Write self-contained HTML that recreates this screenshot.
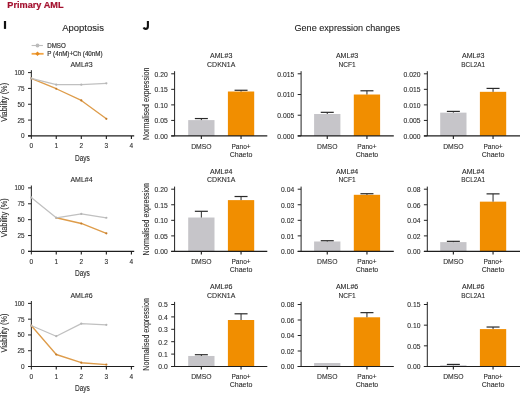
<!DOCTYPE html>
<html><head><meta charset="utf-8"><style>
html,body{margin:0;padding:0;background:#fff;}
body{width:520px;height:394px;overflow:hidden;}
svg{display:block;font-family:"Liberation Sans", sans-serif;will-change:transform;filter:blur(0.3px);}
</style></head><body>
<svg width="520" height="394" viewBox="0 0 520 394">
<text x="7.30" y="7.55" font-size="9.4" text-anchor="start" fill="#A3102E" stroke="#A3102E" stroke-width="0.2" font-weight="bold" textLength="56.2" lengthAdjust="spacingAndGlyphs" >Primary AML</text>
<rect x="3.90" y="21.00" width="2.20" height="7.90" fill="#111"/>
<path d="M147.9 20.9 V26.2 Q147.9 28.9 145.6 28.9 Q144.2 28.9 143.5 27.6" fill="none" stroke="#111" stroke-width="2.1"/>
<text x="62.20" y="30.70" font-size="9.8" text-anchor="start" fill="#222" stroke="#222" stroke-width="0.1" textLength="41.7" lengthAdjust="spacingAndGlyphs" >Apoptosis</text>
<text x="294.50" y="30.80" font-size="9.9" text-anchor="start" fill="#222" stroke="#222" stroke-width="0.1" textLength="105.5" lengthAdjust="spacingAndGlyphs" >Gene expression changes</text>
<line x1="31.60" y1="45.50" x2="42.90" y2="45.50" stroke="#BDBDBD" stroke-width="1.1"/>
<circle cx="37.50" cy="45.50" r="1.9" fill="#BBBBBB"/>
<text x="47.20" y="47.60" font-size="6.6" text-anchor="start" fill="#333" stroke="#333" stroke-width="0.18" textLength="18.6" lengthAdjust="spacingAndGlyphs" >DMSO</text>
<line x1="31.60" y1="53.80" x2="43.60" y2="53.80" stroke="#F2A545" stroke-width="1.8"/>
<path d="M37.5 51.6 L39.8 53.8 L37.5 56.0 L35.2 53.8 Z" fill="#E58A1E"/>
<text x="47.30" y="56.00" font-size="6.6" text-anchor="start" fill="#333" stroke="#333" stroke-width="0.18" textLength="55.3" lengthAdjust="spacingAndGlyphs" >P (4nM)+Ch (40nM)</text>
<text x="81.50" y="66.60" font-size="6.9" text-anchor="middle" fill="#2a2a2a" stroke="#2a2a2a" stroke-width="0.1" textLength="22.2" lengthAdjust="spacingAndGlyphs" >AML#3</text>
<text x="7.30" y="102.35" font-size="8.6" text-anchor="middle" fill="#2a2a2a" stroke="#2a2a2a" stroke-width="0.1" textLength="39" lengthAdjust="spacingAndGlyphs" transform="rotate(-90 7.30 102.35)" >Viability (%)</text>
<line x1="31.35" y1="70.20" x2="31.35" y2="138.90" stroke="#222" stroke-width="1.0"/>
<line x1="28.00" y1="135.90" x2="134.20" y2="135.90" stroke="#1e1e1e" stroke-width="1.2"/>
<line x1="28.00" y1="135.90" x2="31.35" y2="135.90" stroke="#222" stroke-width="1.0"/>
<text x="24.50" y="138.35" font-size="6.8" text-anchor="end" fill="#2a2a2a" stroke="#2a2a2a" stroke-width="0.1" textLength="3.6" lengthAdjust="spacingAndGlyphs" >0</text>
<line x1="28.00" y1="120.08" x2="31.35" y2="120.08" stroke="#222" stroke-width="1.0"/>
<text x="24.50" y="122.53" font-size="6.8" text-anchor="end" fill="#2a2a2a" stroke="#2a2a2a" stroke-width="0.1" textLength="7.1" lengthAdjust="spacingAndGlyphs" >25</text>
<line x1="28.00" y1="104.25" x2="31.35" y2="104.25" stroke="#222" stroke-width="1.0"/>
<text x="24.50" y="106.70" font-size="6.8" text-anchor="end" fill="#2a2a2a" stroke="#2a2a2a" stroke-width="0.1" textLength="7.1" lengthAdjust="spacingAndGlyphs" >50</text>
<line x1="28.00" y1="88.42" x2="31.35" y2="88.42" stroke="#222" stroke-width="1.0"/>
<text x="24.50" y="90.88" font-size="6.8" text-anchor="end" fill="#2a2a2a" stroke="#2a2a2a" stroke-width="0.1" textLength="7.1" lengthAdjust="spacingAndGlyphs" >75</text>
<line x1="28.00" y1="72.60" x2="31.35" y2="72.60" stroke="#222" stroke-width="1.0"/>
<text x="24.50" y="75.05" font-size="6.8" text-anchor="end" fill="#2a2a2a" stroke="#2a2a2a" stroke-width="0.1" textLength="10.1" lengthAdjust="spacingAndGlyphs" >100</text>
<text x="31.20" y="148.30" font-size="6.5" text-anchor="middle" fill="#2a2a2a" stroke="#2a2a2a" stroke-width="0.1" >0</text>
<line x1="56.25" y1="135.90" x2="56.25" y2="138.90" stroke="#1a1a1a" stroke-width="1.1"/>
<text x="56.25" y="148.30" font-size="6.5" text-anchor="middle" fill="#2a2a2a" stroke="#2a2a2a" stroke-width="0.1" >1</text>
<line x1="81.30" y1="135.90" x2="81.30" y2="138.90" stroke="#1a1a1a" stroke-width="1.1"/>
<text x="81.30" y="148.30" font-size="6.5" text-anchor="middle" fill="#2a2a2a" stroke="#2a2a2a" stroke-width="0.1" >2</text>
<line x1="106.35" y1="135.90" x2="106.35" y2="138.90" stroke="#1a1a1a" stroke-width="1.1"/>
<text x="106.35" y="148.30" font-size="6.5" text-anchor="middle" fill="#2a2a2a" stroke="#2a2a2a" stroke-width="0.1" >3</text>
<line x1="131.40" y1="135.90" x2="131.40" y2="138.90" stroke="#1a1a1a" stroke-width="1.1"/>
<text x="131.40" y="148.30" font-size="6.5" text-anchor="middle" fill="#2a2a2a" stroke="#2a2a2a" stroke-width="0.1" >4</text>
<text x="82.40" y="160.80" font-size="8.2" text-anchor="middle" fill="#2a2a2a" stroke="#2a2a2a" stroke-width="0.1" textLength="15.0" lengthAdjust="spacingAndGlyphs" >Days</text>
<polyline points="31.20,78.30 56.25,88.74 81.30,100.45 106.35,118.81" fill="none" stroke="#DE9C4A" stroke-width="1.35" stroke-linejoin="round"/>
<circle cx="31.20" cy="78.30" r="1.1" fill="#C47C2A"/>
<circle cx="56.25" cy="88.74" r="1.1" fill="#C47C2A"/>
<circle cx="81.30" cy="100.45" r="1.1" fill="#C47C2A"/>
<circle cx="106.35" cy="118.81" r="1.1" fill="#C47C2A"/>
<polyline points="31.20,78.30 56.25,84.63 81.30,84.63 106.35,83.36" fill="none" stroke="#C0C0C0" stroke-width="1.25" stroke-linejoin="round"/>
<circle cx="31.20" cy="78.30" r="1.1" fill="#B5B5B5"/>
<circle cx="56.25" cy="84.63" r="1.1" fill="#B5B5B5"/>
<circle cx="81.30" cy="84.63" r="1.1" fill="#B5B5B5"/>
<circle cx="106.35" cy="83.36" r="1.1" fill="#B5B5B5"/>
<text x="81.50" y="182.00" font-size="6.9" text-anchor="middle" fill="#2a2a2a" stroke="#2a2a2a" stroke-width="0.1" textLength="22.2" lengthAdjust="spacingAndGlyphs" >AML#4</text>
<text x="7.30" y="217.78" font-size="8.6" text-anchor="middle" fill="#2a2a2a" stroke="#2a2a2a" stroke-width="0.1" textLength="39" lengthAdjust="spacingAndGlyphs" transform="rotate(-90 7.30 217.78)" >Viability (%)</text>
<line x1="31.35" y1="185.50" x2="31.35" y2="254.45" stroke="#222" stroke-width="1.0"/>
<line x1="28.00" y1="251.45" x2="134.20" y2="251.45" stroke="#1e1e1e" stroke-width="1.2"/>
<line x1="28.00" y1="251.45" x2="31.35" y2="251.45" stroke="#222" stroke-width="1.0"/>
<text x="24.50" y="253.90" font-size="6.8" text-anchor="end" fill="#2a2a2a" stroke="#2a2a2a" stroke-width="0.1" textLength="3.6" lengthAdjust="spacingAndGlyphs" >0</text>
<line x1="28.00" y1="235.56" x2="31.35" y2="235.56" stroke="#222" stroke-width="1.0"/>
<text x="24.50" y="238.01" font-size="6.8" text-anchor="end" fill="#2a2a2a" stroke="#2a2a2a" stroke-width="0.1" textLength="7.1" lengthAdjust="spacingAndGlyphs" >25</text>
<line x1="28.00" y1="219.68" x2="31.35" y2="219.68" stroke="#222" stroke-width="1.0"/>
<text x="24.50" y="222.12" font-size="6.8" text-anchor="end" fill="#2a2a2a" stroke="#2a2a2a" stroke-width="0.1" textLength="7.1" lengthAdjust="spacingAndGlyphs" >50</text>
<line x1="28.00" y1="203.79" x2="31.35" y2="203.79" stroke="#222" stroke-width="1.0"/>
<text x="24.50" y="206.24" font-size="6.8" text-anchor="end" fill="#2a2a2a" stroke="#2a2a2a" stroke-width="0.1" textLength="7.1" lengthAdjust="spacingAndGlyphs" >75</text>
<line x1="28.00" y1="187.90" x2="31.35" y2="187.90" stroke="#222" stroke-width="1.0"/>
<text x="24.50" y="190.35" font-size="6.8" text-anchor="end" fill="#2a2a2a" stroke="#2a2a2a" stroke-width="0.1" textLength="10.1" lengthAdjust="spacingAndGlyphs" >100</text>
<text x="31.20" y="263.85" font-size="6.5" text-anchor="middle" fill="#2a2a2a" stroke="#2a2a2a" stroke-width="0.1" >0</text>
<line x1="56.25" y1="251.45" x2="56.25" y2="254.45" stroke="#1a1a1a" stroke-width="1.1"/>
<text x="56.25" y="263.85" font-size="6.5" text-anchor="middle" fill="#2a2a2a" stroke="#2a2a2a" stroke-width="0.1" >1</text>
<line x1="81.30" y1="251.45" x2="81.30" y2="254.45" stroke="#1a1a1a" stroke-width="1.1"/>
<text x="81.30" y="263.85" font-size="6.5" text-anchor="middle" fill="#2a2a2a" stroke="#2a2a2a" stroke-width="0.1" >2</text>
<line x1="106.35" y1="251.45" x2="106.35" y2="254.45" stroke="#1a1a1a" stroke-width="1.1"/>
<text x="106.35" y="263.85" font-size="6.5" text-anchor="middle" fill="#2a2a2a" stroke="#2a2a2a" stroke-width="0.1" >3</text>
<line x1="131.40" y1="251.45" x2="131.40" y2="254.45" stroke="#1a1a1a" stroke-width="1.1"/>
<text x="131.40" y="263.85" font-size="6.5" text-anchor="middle" fill="#2a2a2a" stroke="#2a2a2a" stroke-width="0.1" >4</text>
<text x="82.40" y="276.35" font-size="8.2" text-anchor="middle" fill="#2a2a2a" stroke="#2a2a2a" stroke-width="0.1" textLength="15.0" lengthAdjust="spacingAndGlyphs" >Days</text>
<polyline points="56.25,217.77 81.30,223.49 106.35,233.34" fill="none" stroke="#DE9C4A" stroke-width="1.35" stroke-linejoin="round"/>
<circle cx="56.25" cy="217.77" r="1.1" fill="#C47C2A"/>
<circle cx="81.30" cy="223.49" r="1.1" fill="#C47C2A"/>
<circle cx="106.35" cy="233.34" r="1.1" fill="#C47C2A"/>
<polyline points="31.20,197.43 56.25,217.77 81.30,213.96 106.35,217.77" fill="none" stroke="#C0C0C0" stroke-width="1.25" stroke-linejoin="round"/>
<circle cx="31.20" cy="197.43" r="1.1" fill="#B5B5B5"/>
<circle cx="56.25" cy="217.77" r="1.1" fill="#B5B5B5"/>
<circle cx="81.30" cy="213.96" r="1.1" fill="#B5B5B5"/>
<circle cx="106.35" cy="217.77" r="1.1" fill="#B5B5B5"/>
<text x="81.50" y="297.60" font-size="6.9" text-anchor="middle" fill="#2a2a2a" stroke="#2a2a2a" stroke-width="0.1" textLength="22.2" lengthAdjust="spacingAndGlyphs" >AML#6</text>
<text x="7.30" y="333.05" font-size="8.6" text-anchor="middle" fill="#2a2a2a" stroke="#2a2a2a" stroke-width="0.1" textLength="39" lengthAdjust="spacingAndGlyphs" transform="rotate(-90 7.30 333.05)" >Viability (%)</text>
<line x1="31.35" y1="301.00" x2="31.35" y2="369.50" stroke="#222" stroke-width="1.0"/>
<line x1="28.00" y1="366.50" x2="134.20" y2="366.50" stroke="#1e1e1e" stroke-width="1.2"/>
<line x1="28.00" y1="366.50" x2="31.35" y2="366.50" stroke="#222" stroke-width="1.0"/>
<text x="24.50" y="368.95" font-size="6.8" text-anchor="end" fill="#2a2a2a" stroke="#2a2a2a" stroke-width="0.1" textLength="3.6" lengthAdjust="spacingAndGlyphs" >0</text>
<line x1="28.00" y1="350.73" x2="31.35" y2="350.73" stroke="#222" stroke-width="1.0"/>
<text x="24.50" y="353.18" font-size="6.8" text-anchor="end" fill="#2a2a2a" stroke="#2a2a2a" stroke-width="0.1" textLength="7.1" lengthAdjust="spacingAndGlyphs" >25</text>
<line x1="28.00" y1="334.95" x2="31.35" y2="334.95" stroke="#222" stroke-width="1.0"/>
<text x="24.50" y="337.40" font-size="6.8" text-anchor="end" fill="#2a2a2a" stroke="#2a2a2a" stroke-width="0.1" textLength="7.1" lengthAdjust="spacingAndGlyphs" >50</text>
<line x1="28.00" y1="319.17" x2="31.35" y2="319.17" stroke="#222" stroke-width="1.0"/>
<text x="24.50" y="321.62" font-size="6.8" text-anchor="end" fill="#2a2a2a" stroke="#2a2a2a" stroke-width="0.1" textLength="7.1" lengthAdjust="spacingAndGlyphs" >75</text>
<line x1="28.00" y1="303.40" x2="31.35" y2="303.40" stroke="#222" stroke-width="1.0"/>
<text x="24.50" y="305.85" font-size="6.8" text-anchor="end" fill="#2a2a2a" stroke="#2a2a2a" stroke-width="0.1" textLength="10.1" lengthAdjust="spacingAndGlyphs" >100</text>
<text x="31.20" y="378.90" font-size="6.5" text-anchor="middle" fill="#2a2a2a" stroke="#2a2a2a" stroke-width="0.1" >0</text>
<line x1="56.25" y1="366.50" x2="56.25" y2="369.50" stroke="#1a1a1a" stroke-width="1.1"/>
<text x="56.25" y="378.90" font-size="6.5" text-anchor="middle" fill="#2a2a2a" stroke="#2a2a2a" stroke-width="0.1" >1</text>
<line x1="81.30" y1="366.50" x2="81.30" y2="369.50" stroke="#1a1a1a" stroke-width="1.1"/>
<text x="81.30" y="378.90" font-size="6.5" text-anchor="middle" fill="#2a2a2a" stroke="#2a2a2a" stroke-width="0.1" >2</text>
<line x1="106.35" y1="366.50" x2="106.35" y2="369.50" stroke="#1a1a1a" stroke-width="1.1"/>
<text x="106.35" y="378.90" font-size="6.5" text-anchor="middle" fill="#2a2a2a" stroke="#2a2a2a" stroke-width="0.1" >3</text>
<line x1="131.40" y1="366.50" x2="131.40" y2="369.50" stroke="#1a1a1a" stroke-width="1.1"/>
<text x="131.40" y="378.90" font-size="6.5" text-anchor="middle" fill="#2a2a2a" stroke="#2a2a2a" stroke-width="0.1" >4</text>
<text x="82.40" y="391.40" font-size="8.2" text-anchor="middle" fill="#2a2a2a" stroke="#2a2a2a" stroke-width="0.1" textLength="15.0" lengthAdjust="spacingAndGlyphs" >Days</text>
<polyline points="31.20,325.49 56.25,354.51 81.30,362.71 106.35,364.61" fill="none" stroke="#DE9C4A" stroke-width="1.35" stroke-linejoin="round"/>
<circle cx="31.20" cy="325.49" r="1.1" fill="#C47C2A"/>
<circle cx="56.25" cy="354.51" r="1.1" fill="#C47C2A"/>
<circle cx="81.30" cy="362.71" r="1.1" fill="#C47C2A"/>
<circle cx="106.35" cy="364.61" r="1.1" fill="#C47C2A"/>
<polyline points="31.20,325.49 56.25,336.21 81.30,323.59 106.35,324.85" fill="none" stroke="#C0C0C0" stroke-width="1.25" stroke-linejoin="round"/>
<circle cx="31.20" cy="325.49" r="1.1" fill="#B5B5B5"/>
<circle cx="56.25" cy="336.21" r="1.1" fill="#B5B5B5"/>
<circle cx="81.30" cy="323.59" r="1.1" fill="#B5B5B5"/>
<circle cx="106.35" cy="324.85" r="1.1" fill="#B5B5B5"/>
<text x="149.00" y="103.78" font-size="8.8" text-anchor="middle" fill="#2a2a2a" stroke="#2a2a2a" stroke-width="0.1" textLength="72.5" lengthAdjust="spacingAndGlyphs" transform="rotate(-90 149.00 103.78)" >Normalised expression</text>
<text x="221.20" y="58.30" font-size="6.9" text-anchor="middle" fill="#2a2a2a" stroke="#2a2a2a" stroke-width="0.1" textLength="22.4" lengthAdjust="spacingAndGlyphs" >AML#3</text>
<text x="221.20" y="66.80" font-size="6.9" text-anchor="middle" fill="#2a2a2a" stroke="#2a2a2a" stroke-width="0.1" textLength="28.2" lengthAdjust="spacingAndGlyphs" >CDKN1A</text>
<rect x="188.20" y="120.10" width="26.30" height="15.85" fill="#C6C5C9"/>
<line x1="201.35" y1="118.55" x2="201.35" y2="120.10" stroke="#2a2a2a" stroke-width="1.0"/>
<line x1="194.85" y1="118.55" x2="207.85" y2="118.55" stroke="#2a2a2a" stroke-width="1.2"/>
<line x1="201.35" y1="135.95" x2="201.35" y2="138.95" stroke="#1a1a1a" stroke-width="1.1"/>
<rect x="227.90" y="91.51" width="26.30" height="44.44" fill="#F18E00"/>
<line x1="241.05" y1="90.27" x2="241.05" y2="91.51" stroke="#2a2a2a" stroke-width="1.0"/>
<line x1="234.55" y1="90.27" x2="247.55" y2="90.27" stroke="#2a2a2a" stroke-width="1.2"/>
<line x1="241.05" y1="135.95" x2="241.05" y2="138.95" stroke="#1a1a1a" stroke-width="1.1"/>
<line x1="174.60" y1="71.20" x2="174.60" y2="135.95" stroke="#222" stroke-width="1.0"/>
<line x1="171.20" y1="135.95" x2="267.30" y2="135.95" stroke="#1e1e1e" stroke-width="1.2"/>
<line x1="171.20" y1="135.95" x2="174.60" y2="135.95" stroke="#222" stroke-width="1.0"/>
<text x="167.70" y="138.80" font-size="7.2" text-anchor="end" fill="#2a2a2a" stroke="#2a2a2a" stroke-width="0.1" textLength="13.14" lengthAdjust="spacingAndGlyphs" >0.00</text>
<line x1="171.20" y1="120.41" x2="174.60" y2="120.41" stroke="#222" stroke-width="1.0"/>
<text x="167.70" y="123.26" font-size="7.2" text-anchor="end" fill="#2a2a2a" stroke="#2a2a2a" stroke-width="0.1" textLength="13.14" lengthAdjust="spacingAndGlyphs" >0.05</text>
<line x1="171.20" y1="104.88" x2="174.60" y2="104.88" stroke="#222" stroke-width="1.0"/>
<text x="167.70" y="107.72" font-size="7.2" text-anchor="end" fill="#2a2a2a" stroke="#2a2a2a" stroke-width="0.1" textLength="13.14" lengthAdjust="spacingAndGlyphs" >0.10</text>
<line x1="171.20" y1="89.34" x2="174.60" y2="89.34" stroke="#222" stroke-width="1.0"/>
<text x="167.70" y="92.19" font-size="7.2" text-anchor="end" fill="#2a2a2a" stroke="#2a2a2a" stroke-width="0.1" textLength="13.14" lengthAdjust="spacingAndGlyphs" >0.15</text>
<line x1="171.20" y1="73.80" x2="174.60" y2="73.80" stroke="#222" stroke-width="1.0"/>
<text x="167.70" y="76.65" font-size="7.2" text-anchor="end" fill="#2a2a2a" stroke="#2a2a2a" stroke-width="0.1" textLength="13.14" lengthAdjust="spacingAndGlyphs" >0.20</text>
<text x="201.35" y="148.55" font-size="7.2" text-anchor="middle" fill="#2a2a2a" stroke="#2a2a2a" stroke-width="0.1" textLength="20.4" lengthAdjust="spacingAndGlyphs" >DMSO</text>
<text x="241.05" y="148.55" font-size="7.2" text-anchor="middle" fill="#2a2a2a" stroke="#2a2a2a" stroke-width="0.1" textLength="19.2" lengthAdjust="spacingAndGlyphs" >Pano+</text>
<text x="241.05" y="156.85" font-size="7.2" text-anchor="middle" fill="#2a2a2a" stroke="#2a2a2a" stroke-width="0.1" textLength="22.6" lengthAdjust="spacingAndGlyphs" >Chaeto</text>
<text x="347.10" y="58.30" font-size="6.9" text-anchor="middle" fill="#2a2a2a" stroke="#2a2a2a" stroke-width="0.1" textLength="22.4" lengthAdjust="spacingAndGlyphs" >AML#3</text>
<text x="347.10" y="66.80" font-size="6.9" text-anchor="middle" fill="#2a2a2a" stroke="#2a2a2a" stroke-width="0.1" textLength="17.2" lengthAdjust="spacingAndGlyphs" >NCF1</text>
<rect x="314.10" y="113.99" width="26.30" height="21.96" fill="#C6C5C9"/>
<line x1="327.25" y1="112.33" x2="327.25" y2="113.99" stroke="#2a2a2a" stroke-width="1.0"/>
<line x1="320.75" y1="112.33" x2="333.75" y2="112.33" stroke="#2a2a2a" stroke-width="1.2"/>
<line x1="327.25" y1="135.95" x2="327.25" y2="138.95" stroke="#1a1a1a" stroke-width="1.1"/>
<rect x="353.80" y="94.52" width="26.30" height="41.43" fill="#F18E00"/>
<line x1="366.95" y1="90.79" x2="366.95" y2="94.52" stroke="#2a2a2a" stroke-width="1.0"/>
<line x1="360.45" y1="90.79" x2="373.45" y2="90.79" stroke="#2a2a2a" stroke-width="1.2"/>
<line x1="366.95" y1="135.95" x2="366.95" y2="138.95" stroke="#1a1a1a" stroke-width="1.1"/>
<line x1="301.10" y1="71.20" x2="301.10" y2="135.95" stroke="#222" stroke-width="1.0"/>
<line x1="297.70" y1="135.95" x2="393.80" y2="135.95" stroke="#1e1e1e" stroke-width="1.2"/>
<line x1="297.70" y1="135.95" x2="301.10" y2="135.95" stroke="#222" stroke-width="1.0"/>
<text x="294.20" y="138.80" font-size="7.2" text-anchor="end" fill="#2a2a2a" stroke="#2a2a2a" stroke-width="0.1" textLength="16.89" lengthAdjust="spacingAndGlyphs" >0.000</text>
<line x1="297.70" y1="115.23" x2="301.10" y2="115.23" stroke="#222" stroke-width="1.0"/>
<text x="294.20" y="118.08" font-size="7.2" text-anchor="end" fill="#2a2a2a" stroke="#2a2a2a" stroke-width="0.1" textLength="16.89" lengthAdjust="spacingAndGlyphs" >0.005</text>
<line x1="297.70" y1="94.52" x2="301.10" y2="94.52" stroke="#222" stroke-width="1.0"/>
<text x="294.20" y="97.37" font-size="7.2" text-anchor="end" fill="#2a2a2a" stroke="#2a2a2a" stroke-width="0.1" textLength="16.89" lengthAdjust="spacingAndGlyphs" >0.010</text>
<line x1="297.70" y1="73.80" x2="301.10" y2="73.80" stroke="#222" stroke-width="1.0"/>
<text x="294.20" y="76.65" font-size="7.2" text-anchor="end" fill="#2a2a2a" stroke="#2a2a2a" stroke-width="0.1" textLength="16.89" lengthAdjust="spacingAndGlyphs" >0.015</text>
<text x="327.25" y="148.55" font-size="7.2" text-anchor="middle" fill="#2a2a2a" stroke="#2a2a2a" stroke-width="0.1" textLength="20.4" lengthAdjust="spacingAndGlyphs" >DMSO</text>
<text x="366.95" y="148.55" font-size="7.2" text-anchor="middle" fill="#2a2a2a" stroke="#2a2a2a" stroke-width="0.1" textLength="19.2" lengthAdjust="spacingAndGlyphs" >Pano+</text>
<text x="366.95" y="156.85" font-size="7.2" text-anchor="middle" fill="#2a2a2a" stroke="#2a2a2a" stroke-width="0.1" textLength="22.6" lengthAdjust="spacingAndGlyphs" >Chaeto</text>
<text x="473.20" y="58.30" font-size="6.9" text-anchor="middle" fill="#2a2a2a" stroke="#2a2a2a" stroke-width="0.1" textLength="22.4" lengthAdjust="spacingAndGlyphs" >AML#3</text>
<text x="473.20" y="66.80" font-size="6.9" text-anchor="middle" fill="#2a2a2a" stroke="#2a2a2a" stroke-width="0.1" textLength="23.8" lengthAdjust="spacingAndGlyphs" >BCL2A1</text>
<rect x="440.20" y="112.64" width="26.30" height="23.31" fill="#C6C5C9"/>
<line x1="453.35" y1="111.40" x2="453.35" y2="112.64" stroke="#2a2a2a" stroke-width="1.0"/>
<line x1="446.85" y1="111.40" x2="459.85" y2="111.40" stroke="#2a2a2a" stroke-width="1.2"/>
<line x1="453.35" y1="135.95" x2="453.35" y2="138.95" stroke="#1a1a1a" stroke-width="1.1"/>
<rect x="479.90" y="91.82" width="26.30" height="44.13" fill="#F18E00"/>
<line x1="493.05" y1="88.41" x2="493.05" y2="91.82" stroke="#2a2a2a" stroke-width="1.0"/>
<line x1="486.55" y1="88.41" x2="499.55" y2="88.41" stroke="#2a2a2a" stroke-width="1.2"/>
<line x1="493.05" y1="135.95" x2="493.05" y2="138.95" stroke="#1a1a1a" stroke-width="1.1"/>
<line x1="427.30" y1="71.20" x2="427.30" y2="135.95" stroke="#222" stroke-width="1.0"/>
<line x1="423.90" y1="135.95" x2="520.00" y2="135.95" stroke="#1e1e1e" stroke-width="1.2"/>
<line x1="423.90" y1="135.95" x2="427.30" y2="135.95" stroke="#222" stroke-width="1.0"/>
<text x="420.40" y="138.80" font-size="7.2" text-anchor="end" fill="#2a2a2a" stroke="#2a2a2a" stroke-width="0.1" textLength="16.89" lengthAdjust="spacingAndGlyphs" >0.000</text>
<line x1="423.90" y1="120.41" x2="427.30" y2="120.41" stroke="#222" stroke-width="1.0"/>
<text x="420.40" y="123.26" font-size="7.2" text-anchor="end" fill="#2a2a2a" stroke="#2a2a2a" stroke-width="0.1" textLength="16.89" lengthAdjust="spacingAndGlyphs" >0.005</text>
<line x1="423.90" y1="104.88" x2="427.30" y2="104.88" stroke="#222" stroke-width="1.0"/>
<text x="420.40" y="107.72" font-size="7.2" text-anchor="end" fill="#2a2a2a" stroke="#2a2a2a" stroke-width="0.1" textLength="16.89" lengthAdjust="spacingAndGlyphs" >0.010</text>
<line x1="423.90" y1="89.34" x2="427.30" y2="89.34" stroke="#222" stroke-width="1.0"/>
<text x="420.40" y="92.19" font-size="7.2" text-anchor="end" fill="#2a2a2a" stroke="#2a2a2a" stroke-width="0.1" textLength="16.89" lengthAdjust="spacingAndGlyphs" >0.015</text>
<line x1="423.90" y1="73.80" x2="427.30" y2="73.80" stroke="#222" stroke-width="1.0"/>
<text x="420.40" y="76.65" font-size="7.2" text-anchor="end" fill="#2a2a2a" stroke="#2a2a2a" stroke-width="0.1" textLength="16.89" lengthAdjust="spacingAndGlyphs" >0.020</text>
<text x="453.35" y="148.55" font-size="7.2" text-anchor="middle" fill="#2a2a2a" stroke="#2a2a2a" stroke-width="0.1" textLength="20.4" lengthAdjust="spacingAndGlyphs" >DMSO</text>
<text x="493.05" y="148.55" font-size="7.2" text-anchor="middle" fill="#2a2a2a" stroke="#2a2a2a" stroke-width="0.1" textLength="19.2" lengthAdjust="spacingAndGlyphs" >Pano+</text>
<text x="493.05" y="156.85" font-size="7.2" text-anchor="middle" fill="#2a2a2a" stroke="#2a2a2a" stroke-width="0.1" textLength="22.6" lengthAdjust="spacingAndGlyphs" >Chaeto</text>
<text x="149.00" y="219.22" font-size="8.8" text-anchor="middle" fill="#2a2a2a" stroke="#2a2a2a" stroke-width="0.1" textLength="72.5" lengthAdjust="spacingAndGlyphs" transform="rotate(-90 149.00 219.22)" >Normalised expression</text>
<text x="221.20" y="173.60" font-size="6.9" text-anchor="middle" fill="#2a2a2a" stroke="#2a2a2a" stroke-width="0.1" textLength="22.4" lengthAdjust="spacingAndGlyphs" >AML#4</text>
<text x="221.20" y="182.10" font-size="6.9" text-anchor="middle" fill="#2a2a2a" stroke="#2a2a2a" stroke-width="0.1" textLength="28.2" lengthAdjust="spacingAndGlyphs" >CDKN1A</text>
<rect x="188.20" y="217.52" width="26.30" height="33.93" fill="#C6C5C9"/>
<line x1="201.35" y1="211.30" x2="201.35" y2="217.52" stroke="#2a2a2a" stroke-width="1.0"/>
<line x1="194.85" y1="211.30" x2="207.85" y2="211.30" stroke="#2a2a2a" stroke-width="1.2"/>
<line x1="201.35" y1="251.45" x2="201.35" y2="254.45" stroke="#1a1a1a" stroke-width="1.1"/>
<rect x="227.90" y="200.12" width="26.30" height="51.33" fill="#F18E00"/>
<line x1="241.05" y1="196.51" x2="241.05" y2="200.12" stroke="#2a2a2a" stroke-width="1.0"/>
<line x1="234.55" y1="196.51" x2="247.55" y2="196.51" stroke="#2a2a2a" stroke-width="1.2"/>
<line x1="241.05" y1="251.45" x2="241.05" y2="254.45" stroke="#1a1a1a" stroke-width="1.1"/>
<line x1="174.60" y1="186.60" x2="174.60" y2="251.45" stroke="#222" stroke-width="1.0"/>
<line x1="171.20" y1="251.45" x2="267.30" y2="251.45" stroke="#1e1e1e" stroke-width="1.2"/>
<line x1="171.20" y1="251.45" x2="174.60" y2="251.45" stroke="#222" stroke-width="1.0"/>
<text x="167.70" y="254.30" font-size="7.2" text-anchor="end" fill="#2a2a2a" stroke="#2a2a2a" stroke-width="0.1" textLength="13.14" lengthAdjust="spacingAndGlyphs" >0.00</text>
<line x1="171.20" y1="235.89" x2="174.60" y2="235.89" stroke="#222" stroke-width="1.0"/>
<text x="167.70" y="238.74" font-size="7.2" text-anchor="end" fill="#2a2a2a" stroke="#2a2a2a" stroke-width="0.1" textLength="13.14" lengthAdjust="spacingAndGlyphs" >0.05</text>
<line x1="171.20" y1="220.32" x2="174.60" y2="220.32" stroke="#222" stroke-width="1.0"/>
<text x="167.70" y="223.17" font-size="7.2" text-anchor="end" fill="#2a2a2a" stroke="#2a2a2a" stroke-width="0.1" textLength="13.14" lengthAdjust="spacingAndGlyphs" >0.10</text>
<line x1="171.20" y1="204.76" x2="174.60" y2="204.76" stroke="#222" stroke-width="1.0"/>
<text x="167.70" y="207.61" font-size="7.2" text-anchor="end" fill="#2a2a2a" stroke="#2a2a2a" stroke-width="0.1" textLength="13.14" lengthAdjust="spacingAndGlyphs" >0.15</text>
<line x1="171.20" y1="189.20" x2="174.60" y2="189.20" stroke="#222" stroke-width="1.0"/>
<text x="167.70" y="192.05" font-size="7.2" text-anchor="end" fill="#2a2a2a" stroke="#2a2a2a" stroke-width="0.1" textLength="13.14" lengthAdjust="spacingAndGlyphs" >0.20</text>
<text x="201.35" y="264.05" font-size="7.2" text-anchor="middle" fill="#2a2a2a" stroke="#2a2a2a" stroke-width="0.1" textLength="20.4" lengthAdjust="spacingAndGlyphs" >DMSO</text>
<text x="241.05" y="264.05" font-size="7.2" text-anchor="middle" fill="#2a2a2a" stroke="#2a2a2a" stroke-width="0.1" textLength="19.2" lengthAdjust="spacingAndGlyphs" >Pano+</text>
<text x="241.05" y="272.35" font-size="7.2" text-anchor="middle" fill="#2a2a2a" stroke="#2a2a2a" stroke-width="0.1" textLength="22.6" lengthAdjust="spacingAndGlyphs" >Chaeto</text>
<text x="347.10" y="173.60" font-size="6.9" text-anchor="middle" fill="#2a2a2a" stroke="#2a2a2a" stroke-width="0.1" textLength="22.4" lengthAdjust="spacingAndGlyphs" >AML#4</text>
<text x="347.10" y="182.10" font-size="6.9" text-anchor="middle" fill="#2a2a2a" stroke="#2a2a2a" stroke-width="0.1" textLength="17.2" lengthAdjust="spacingAndGlyphs" >NCF1</text>
<rect x="314.10" y="241.49" width="26.30" height="9.96" fill="#C6C5C9"/>
<line x1="327.25" y1="240.71" x2="327.25" y2="241.49" stroke="#2a2a2a" stroke-width="1.0"/>
<line x1="320.75" y1="240.71" x2="333.75" y2="240.71" stroke="#2a2a2a" stroke-width="1.2"/>
<line x1="327.25" y1="251.45" x2="327.25" y2="254.45" stroke="#1a1a1a" stroke-width="1.1"/>
<rect x="353.80" y="194.80" width="26.30" height="56.65" fill="#F18E00"/>
<line x1="366.95" y1="193.71" x2="366.95" y2="194.80" stroke="#2a2a2a" stroke-width="1.0"/>
<line x1="360.45" y1="193.71" x2="373.45" y2="193.71" stroke="#2a2a2a" stroke-width="1.2"/>
<line x1="366.95" y1="251.45" x2="366.95" y2="254.45" stroke="#1a1a1a" stroke-width="1.1"/>
<line x1="301.10" y1="186.60" x2="301.10" y2="251.45" stroke="#222" stroke-width="1.0"/>
<line x1="297.70" y1="251.45" x2="393.80" y2="251.45" stroke="#1e1e1e" stroke-width="1.2"/>
<line x1="297.70" y1="251.45" x2="301.10" y2="251.45" stroke="#222" stroke-width="1.0"/>
<text x="294.20" y="254.30" font-size="7.2" text-anchor="end" fill="#2a2a2a" stroke="#2a2a2a" stroke-width="0.1" textLength="13.14" lengthAdjust="spacingAndGlyphs" >0.00</text>
<line x1="297.70" y1="235.89" x2="301.10" y2="235.89" stroke="#222" stroke-width="1.0"/>
<text x="294.20" y="238.74" font-size="7.2" text-anchor="end" fill="#2a2a2a" stroke="#2a2a2a" stroke-width="0.1" textLength="13.14" lengthAdjust="spacingAndGlyphs" >0.01</text>
<line x1="297.70" y1="220.32" x2="301.10" y2="220.32" stroke="#222" stroke-width="1.0"/>
<text x="294.20" y="223.17" font-size="7.2" text-anchor="end" fill="#2a2a2a" stroke="#2a2a2a" stroke-width="0.1" textLength="13.14" lengthAdjust="spacingAndGlyphs" >0.02</text>
<line x1="297.70" y1="204.76" x2="301.10" y2="204.76" stroke="#222" stroke-width="1.0"/>
<text x="294.20" y="207.61" font-size="7.2" text-anchor="end" fill="#2a2a2a" stroke="#2a2a2a" stroke-width="0.1" textLength="13.14" lengthAdjust="spacingAndGlyphs" >0.03</text>
<line x1="297.70" y1="189.20" x2="301.10" y2="189.20" stroke="#222" stroke-width="1.0"/>
<text x="294.20" y="192.05" font-size="7.2" text-anchor="end" fill="#2a2a2a" stroke="#2a2a2a" stroke-width="0.1" textLength="13.14" lengthAdjust="spacingAndGlyphs" >0.04</text>
<text x="327.25" y="264.05" font-size="7.2" text-anchor="middle" fill="#2a2a2a" stroke="#2a2a2a" stroke-width="0.1" textLength="20.4" lengthAdjust="spacingAndGlyphs" >DMSO</text>
<text x="366.95" y="264.05" font-size="7.2" text-anchor="middle" fill="#2a2a2a" stroke="#2a2a2a" stroke-width="0.1" textLength="19.2" lengthAdjust="spacingAndGlyphs" >Pano+</text>
<text x="366.95" y="272.35" font-size="7.2" text-anchor="middle" fill="#2a2a2a" stroke="#2a2a2a" stroke-width="0.1" textLength="22.6" lengthAdjust="spacingAndGlyphs" >Chaeto</text>
<text x="473.20" y="173.60" font-size="6.9" text-anchor="middle" fill="#2a2a2a" stroke="#2a2a2a" stroke-width="0.1" textLength="22.4" lengthAdjust="spacingAndGlyphs" >AML#4</text>
<text x="473.20" y="182.10" font-size="6.9" text-anchor="middle" fill="#2a2a2a" stroke="#2a2a2a" stroke-width="0.1" textLength="23.8" lengthAdjust="spacingAndGlyphs" >BCL2A1</text>
<rect x="440.20" y="242.11" width="26.30" height="9.34" fill="#C6C5C9"/>
<line x1="453.35" y1="241.33" x2="453.35" y2="242.11" stroke="#2a2a2a" stroke-width="1.0"/>
<line x1="446.85" y1="241.33" x2="459.85" y2="241.33" stroke="#2a2a2a" stroke-width="1.2"/>
<line x1="453.35" y1="251.45" x2="453.35" y2="254.45" stroke="#1a1a1a" stroke-width="1.1"/>
<rect x="479.90" y="201.65" width="26.30" height="49.80" fill="#F18E00"/>
<line x1="493.05" y1="193.87" x2="493.05" y2="201.65" stroke="#2a2a2a" stroke-width="1.0"/>
<line x1="486.55" y1="193.87" x2="499.55" y2="193.87" stroke="#2a2a2a" stroke-width="1.2"/>
<line x1="493.05" y1="251.45" x2="493.05" y2="254.45" stroke="#1a1a1a" stroke-width="1.1"/>
<line x1="427.30" y1="186.60" x2="427.30" y2="251.45" stroke="#222" stroke-width="1.0"/>
<line x1="423.90" y1="251.45" x2="520.00" y2="251.45" stroke="#1e1e1e" stroke-width="1.2"/>
<line x1="423.90" y1="251.45" x2="427.30" y2="251.45" stroke="#222" stroke-width="1.0"/>
<text x="420.40" y="254.30" font-size="7.2" text-anchor="end" fill="#2a2a2a" stroke="#2a2a2a" stroke-width="0.1" textLength="13.14" lengthAdjust="spacingAndGlyphs" >0.00</text>
<line x1="423.90" y1="235.89" x2="427.30" y2="235.89" stroke="#222" stroke-width="1.0"/>
<text x="420.40" y="238.74" font-size="7.2" text-anchor="end" fill="#2a2a2a" stroke="#2a2a2a" stroke-width="0.1" textLength="13.14" lengthAdjust="spacingAndGlyphs" >0.02</text>
<line x1="423.90" y1="220.32" x2="427.30" y2="220.32" stroke="#222" stroke-width="1.0"/>
<text x="420.40" y="223.17" font-size="7.2" text-anchor="end" fill="#2a2a2a" stroke="#2a2a2a" stroke-width="0.1" textLength="13.14" lengthAdjust="spacingAndGlyphs" >0.04</text>
<line x1="423.90" y1="204.76" x2="427.30" y2="204.76" stroke="#222" stroke-width="1.0"/>
<text x="420.40" y="207.61" font-size="7.2" text-anchor="end" fill="#2a2a2a" stroke="#2a2a2a" stroke-width="0.1" textLength="13.14" lengthAdjust="spacingAndGlyphs" >0.06</text>
<line x1="423.90" y1="189.20" x2="427.30" y2="189.20" stroke="#222" stroke-width="1.0"/>
<text x="420.40" y="192.05" font-size="7.2" text-anchor="end" fill="#2a2a2a" stroke="#2a2a2a" stroke-width="0.1" textLength="13.14" lengthAdjust="spacingAndGlyphs" >0.08</text>
<text x="453.35" y="264.05" font-size="7.2" text-anchor="middle" fill="#2a2a2a" stroke="#2a2a2a" stroke-width="0.1" textLength="20.4" lengthAdjust="spacingAndGlyphs" >DMSO</text>
<text x="493.05" y="264.05" font-size="7.2" text-anchor="middle" fill="#2a2a2a" stroke="#2a2a2a" stroke-width="0.1" textLength="19.2" lengthAdjust="spacingAndGlyphs" >Pano+</text>
<text x="493.05" y="272.35" font-size="7.2" text-anchor="middle" fill="#2a2a2a" stroke="#2a2a2a" stroke-width="0.1" textLength="22.6" lengthAdjust="spacingAndGlyphs" >Chaeto</text>
<text x="149.00" y="334.40" font-size="8.8" text-anchor="middle" fill="#2a2a2a" stroke="#2a2a2a" stroke-width="0.1" textLength="72.5" lengthAdjust="spacingAndGlyphs" transform="rotate(-90 149.00 334.40)" >Normalised expression</text>
<text x="221.20" y="289.00" font-size="6.9" text-anchor="middle" fill="#2a2a2a" stroke="#2a2a2a" stroke-width="0.1" textLength="22.4" lengthAdjust="spacingAndGlyphs" >AML#6</text>
<text x="221.20" y="297.50" font-size="6.9" text-anchor="middle" fill="#2a2a2a" stroke="#2a2a2a" stroke-width="0.1" textLength="28.2" lengthAdjust="spacingAndGlyphs" >CDKN1A</text>
<rect x="188.20" y="355.96" width="26.30" height="10.54" fill="#C6C5C9"/>
<line x1="201.35" y1="354.72" x2="201.35" y2="355.96" stroke="#2a2a2a" stroke-width="1.0"/>
<line x1="194.85" y1="354.72" x2="207.85" y2="354.72" stroke="#2a2a2a" stroke-width="1.2"/>
<line x1="201.35" y1="366.50" x2="201.35" y2="369.50" stroke="#1a1a1a" stroke-width="1.1"/>
<rect x="227.90" y="320.00" width="26.30" height="46.50" fill="#F18E00"/>
<line x1="241.05" y1="313.80" x2="241.05" y2="320.00" stroke="#2a2a2a" stroke-width="1.0"/>
<line x1="234.55" y1="313.80" x2="247.55" y2="313.80" stroke="#2a2a2a" stroke-width="1.2"/>
<line x1="241.05" y1="366.50" x2="241.05" y2="369.50" stroke="#1a1a1a" stroke-width="1.1"/>
<line x1="174.60" y1="301.90" x2="174.60" y2="366.50" stroke="#222" stroke-width="1.0"/>
<line x1="171.20" y1="366.50" x2="267.30" y2="366.50" stroke="#1e1e1e" stroke-width="1.2"/>
<line x1="171.20" y1="366.50" x2="174.60" y2="366.50" stroke="#222" stroke-width="1.0"/>
<text x="167.70" y="369.35" font-size="7.2" text-anchor="end" fill="#2a2a2a" stroke="#2a2a2a" stroke-width="0.1" textLength="9.38" lengthAdjust="spacingAndGlyphs" >0.0</text>
<line x1="171.20" y1="354.10" x2="174.60" y2="354.10" stroke="#222" stroke-width="1.0"/>
<text x="167.70" y="356.95" font-size="7.2" text-anchor="end" fill="#2a2a2a" stroke="#2a2a2a" stroke-width="0.1" textLength="9.38" lengthAdjust="spacingAndGlyphs" >0.1</text>
<line x1="171.20" y1="341.70" x2="174.60" y2="341.70" stroke="#222" stroke-width="1.0"/>
<text x="167.70" y="344.55" font-size="7.2" text-anchor="end" fill="#2a2a2a" stroke="#2a2a2a" stroke-width="0.1" textLength="9.38" lengthAdjust="spacingAndGlyphs" >0.2</text>
<line x1="171.20" y1="329.30" x2="174.60" y2="329.30" stroke="#222" stroke-width="1.0"/>
<text x="167.70" y="332.15" font-size="7.2" text-anchor="end" fill="#2a2a2a" stroke="#2a2a2a" stroke-width="0.1" textLength="9.38" lengthAdjust="spacingAndGlyphs" >0.3</text>
<line x1="171.20" y1="316.90" x2="174.60" y2="316.90" stroke="#222" stroke-width="1.0"/>
<text x="167.70" y="319.75" font-size="7.2" text-anchor="end" fill="#2a2a2a" stroke="#2a2a2a" stroke-width="0.1" textLength="9.38" lengthAdjust="spacingAndGlyphs" >0.4</text>
<line x1="171.20" y1="304.50" x2="174.60" y2="304.50" stroke="#222" stroke-width="1.0"/>
<text x="167.70" y="307.35" font-size="7.2" text-anchor="end" fill="#2a2a2a" stroke="#2a2a2a" stroke-width="0.1" textLength="9.38" lengthAdjust="spacingAndGlyphs" >0.5</text>
<text x="201.35" y="379.10" font-size="7.2" text-anchor="middle" fill="#2a2a2a" stroke="#2a2a2a" stroke-width="0.1" textLength="20.4" lengthAdjust="spacingAndGlyphs" >DMSO</text>
<text x="241.05" y="379.10" font-size="7.2" text-anchor="middle" fill="#2a2a2a" stroke="#2a2a2a" stroke-width="0.1" textLength="19.2" lengthAdjust="spacingAndGlyphs" >Pano+</text>
<text x="241.05" y="387.40" font-size="7.2" text-anchor="middle" fill="#2a2a2a" stroke="#2a2a2a" stroke-width="0.1" textLength="22.6" lengthAdjust="spacingAndGlyphs" >Chaeto</text>
<text x="347.10" y="289.00" font-size="6.9" text-anchor="middle" fill="#2a2a2a" stroke="#2a2a2a" stroke-width="0.1" textLength="22.4" lengthAdjust="spacingAndGlyphs" >AML#6</text>
<text x="347.10" y="297.50" font-size="6.9" text-anchor="middle" fill="#2a2a2a" stroke="#2a2a2a" stroke-width="0.1" textLength="17.2" lengthAdjust="spacingAndGlyphs" >NCF1</text>
<rect x="314.10" y="363.01" width="26.30" height="3.49" fill="#C6C5C9"/>
<line x1="327.25" y1="366.50" x2="327.25" y2="369.50" stroke="#1a1a1a" stroke-width="1.1"/>
<rect x="353.80" y="317.29" width="26.30" height="49.21" fill="#F18E00"/>
<line x1="366.95" y1="312.64" x2="366.95" y2="317.29" stroke="#2a2a2a" stroke-width="1.0"/>
<line x1="360.45" y1="312.64" x2="373.45" y2="312.64" stroke="#2a2a2a" stroke-width="1.2"/>
<line x1="366.95" y1="366.50" x2="366.95" y2="369.50" stroke="#1a1a1a" stroke-width="1.1"/>
<line x1="301.10" y1="301.90" x2="301.10" y2="366.50" stroke="#222" stroke-width="1.0"/>
<line x1="297.70" y1="366.50" x2="393.80" y2="366.50" stroke="#1e1e1e" stroke-width="1.2"/>
<line x1="297.70" y1="366.50" x2="301.10" y2="366.50" stroke="#222" stroke-width="1.0"/>
<text x="294.20" y="369.35" font-size="7.2" text-anchor="end" fill="#2a2a2a" stroke="#2a2a2a" stroke-width="0.1" textLength="13.14" lengthAdjust="spacingAndGlyphs" >0.00</text>
<line x1="297.70" y1="351.00" x2="301.10" y2="351.00" stroke="#222" stroke-width="1.0"/>
<text x="294.20" y="353.85" font-size="7.2" text-anchor="end" fill="#2a2a2a" stroke="#2a2a2a" stroke-width="0.1" textLength="13.14" lengthAdjust="spacingAndGlyphs" >0.02</text>
<line x1="297.70" y1="335.50" x2="301.10" y2="335.50" stroke="#222" stroke-width="1.0"/>
<text x="294.20" y="338.35" font-size="7.2" text-anchor="end" fill="#2a2a2a" stroke="#2a2a2a" stroke-width="0.1" textLength="13.14" lengthAdjust="spacingAndGlyphs" >0.04</text>
<line x1="297.70" y1="320.00" x2="301.10" y2="320.00" stroke="#222" stroke-width="1.0"/>
<text x="294.20" y="322.85" font-size="7.2" text-anchor="end" fill="#2a2a2a" stroke="#2a2a2a" stroke-width="0.1" textLength="13.14" lengthAdjust="spacingAndGlyphs" >0.06</text>
<line x1="297.70" y1="304.50" x2="301.10" y2="304.50" stroke="#222" stroke-width="1.0"/>
<text x="294.20" y="307.35" font-size="7.2" text-anchor="end" fill="#2a2a2a" stroke="#2a2a2a" stroke-width="0.1" textLength="13.14" lengthAdjust="spacingAndGlyphs" >0.08</text>
<text x="327.25" y="379.10" font-size="7.2" text-anchor="middle" fill="#2a2a2a" stroke="#2a2a2a" stroke-width="0.1" textLength="20.4" lengthAdjust="spacingAndGlyphs" >DMSO</text>
<text x="366.95" y="379.10" font-size="7.2" text-anchor="middle" fill="#2a2a2a" stroke="#2a2a2a" stroke-width="0.1" textLength="19.2" lengthAdjust="spacingAndGlyphs" >Pano+</text>
<text x="366.95" y="387.40" font-size="7.2" text-anchor="middle" fill="#2a2a2a" stroke="#2a2a2a" stroke-width="0.1" textLength="22.6" lengthAdjust="spacingAndGlyphs" >Chaeto</text>
<text x="473.20" y="289.00" font-size="6.9" text-anchor="middle" fill="#2a2a2a" stroke="#2a2a2a" stroke-width="0.1" textLength="22.4" lengthAdjust="spacingAndGlyphs" >AML#6</text>
<text x="473.20" y="297.50" font-size="6.9" text-anchor="middle" fill="#2a2a2a" stroke="#2a2a2a" stroke-width="0.1" textLength="23.8" lengthAdjust="spacingAndGlyphs" >BCL2A1</text>
<rect x="440.20" y="365.26" width="26.30" height="1.24" fill="#C6C5C9"/>
<line x1="453.35" y1="364.43" x2="453.35" y2="365.26" stroke="#2a2a2a" stroke-width="1.0"/>
<line x1="446.85" y1="364.43" x2="459.85" y2="364.43" stroke="#2a2a2a" stroke-width="1.2"/>
<line x1="453.35" y1="366.50" x2="453.35" y2="369.50" stroke="#1a1a1a" stroke-width="1.1"/>
<rect x="479.90" y="329.09" width="26.30" height="37.41" fill="#F18E00"/>
<line x1="493.05" y1="327.03" x2="493.05" y2="329.09" stroke="#2a2a2a" stroke-width="1.0"/>
<line x1="486.55" y1="327.03" x2="499.55" y2="327.03" stroke="#2a2a2a" stroke-width="1.2"/>
<line x1="493.05" y1="366.50" x2="493.05" y2="369.50" stroke="#1a1a1a" stroke-width="1.1"/>
<line x1="427.30" y1="301.90" x2="427.30" y2="366.50" stroke="#222" stroke-width="1.0"/>
<line x1="423.90" y1="366.50" x2="520.00" y2="366.50" stroke="#1e1e1e" stroke-width="1.2"/>
<line x1="423.90" y1="366.50" x2="427.30" y2="366.50" stroke="#222" stroke-width="1.0"/>
<text x="420.40" y="369.35" font-size="7.2" text-anchor="end" fill="#2a2a2a" stroke="#2a2a2a" stroke-width="0.1" textLength="13.14" lengthAdjust="spacingAndGlyphs" >0.00</text>
<line x1="423.90" y1="345.83" x2="427.30" y2="345.83" stroke="#222" stroke-width="1.0"/>
<text x="420.40" y="348.68" font-size="7.2" text-anchor="end" fill="#2a2a2a" stroke="#2a2a2a" stroke-width="0.1" textLength="13.14" lengthAdjust="spacingAndGlyphs" >0.05</text>
<line x1="423.90" y1="325.17" x2="427.30" y2="325.17" stroke="#222" stroke-width="1.0"/>
<text x="420.40" y="328.02" font-size="7.2" text-anchor="end" fill="#2a2a2a" stroke="#2a2a2a" stroke-width="0.1" textLength="13.14" lengthAdjust="spacingAndGlyphs" >0.10</text>
<line x1="423.90" y1="304.50" x2="427.30" y2="304.50" stroke="#222" stroke-width="1.0"/>
<text x="420.40" y="307.35" font-size="7.2" text-anchor="end" fill="#2a2a2a" stroke="#2a2a2a" stroke-width="0.1" textLength="13.14" lengthAdjust="spacingAndGlyphs" >0.15</text>
<text x="453.35" y="379.10" font-size="7.2" text-anchor="middle" fill="#2a2a2a" stroke="#2a2a2a" stroke-width="0.1" textLength="20.4" lengthAdjust="spacingAndGlyphs" >DMSO</text>
<text x="493.05" y="379.10" font-size="7.2" text-anchor="middle" fill="#2a2a2a" stroke="#2a2a2a" stroke-width="0.1" textLength="19.2" lengthAdjust="spacingAndGlyphs" >Pano+</text>
<text x="493.05" y="387.40" font-size="7.2" text-anchor="middle" fill="#2a2a2a" stroke="#2a2a2a" stroke-width="0.1" textLength="22.6" lengthAdjust="spacingAndGlyphs" >Chaeto</text>
</svg>
</body></html>
